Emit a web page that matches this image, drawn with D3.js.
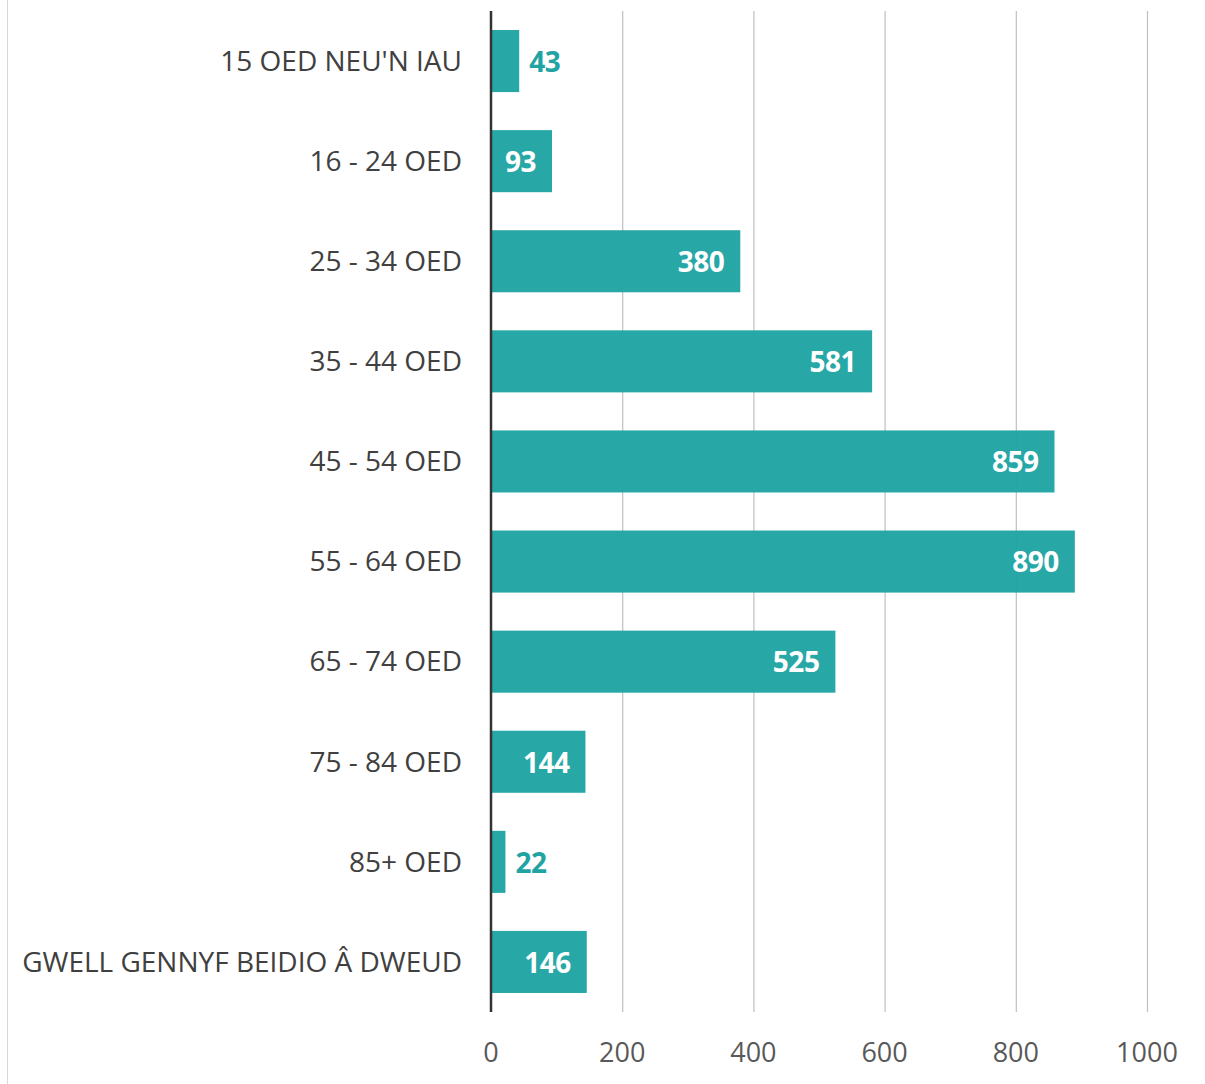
<!DOCTYPE html>
<html>
<head>
<meta charset="utf-8">
<script src="https://cdn.jsdelivr.net/npm/d3@7"></script>
<style>
body { margin: 0; background: #fff; }
text { font-family: "Open Sans", "Noto Sans", sans-serif; }
</style>
</head>
<body>
<div id="chart"></div>
<script>
var categories = ["15 OED NEU'N IAU", "16 - 24 OED", "25 - 34 OED", "35 - 44 OED", "45 - 54 OED",
  "55 - 64 OED", "65 - 74 OED", "75 - 84 OED", "85+ OED", "GWELL GENNYF BEIDIO Â DWEUD"];
var values = [43, 93, 380, 581, 859, 890, 525, 144, 22, 146];
var ticks = [0, 200, 400, 600, 800, 1000];

var width = 1205;
var height = 1084;
var teal = "#1fa3a3";

var svg = d3.select('#chart').append('svg').attr('width', width).attr('height', height);

// faint frame line on the left
svg.append('line')
  .attr('x1', 7.5).attr('x2', 7.5).attr('y1', 0).attr('y2', height)
  .attr('stroke', '#d9d9d9').attr('stroke-width', 1);

var x = d3.scaleLinear().domain([0, 1000]).range([491, 1147]);
var y = d3.scaleBand().domain(categories).range([11, 1012]).paddingInner(0.38).paddingOuter(0.19);

// gridlines
svg.append('g').selectAll('line').data(ticks.slice(1)).enter()
  .append('line')
  .attr('x1', function(d) { return x(d) + 0.5; })
  .attr('x2', function(d) { return x(d) + 0.5; })
  .attr('y1', 11).attr('y2', 1012)
  .attr('stroke', '#bfbfbf').attr('stroke-width', 1.2);

// bars
svg.append('g').selectAll('rect').data(values).enter()
  .append('rect')
  .attr('x', x(0))
  .attr('y', function(d, i) { return y(categories[i]); })
  .attr('width', function(d) { return x(d) - x(0); })
  .attr('height', y.bandwidth())
  .attr('fill', teal).attr('fill-opacity', 0.96);

// zero axis
svg.append('line')
  .attr('x1', x(0)).attr('x2', x(0)).attr('y1', 11).attr('y2', 1012)
  .attr('stroke', '#333').attr('stroke-width', 2.5);

// category labels
svg.append('g').selectAll('text').data(categories).enter()
  .append('text')
  .attr('x', 462)
  .attr('y', function(d) { return y(d) + y.bandwidth() / 2; })
  .attr('dy', '0.35em')
  .attr('text-anchor', 'end')
  .attr('font-size', 28)
  .attr('fill', '#404040')
  .text(function(d) { return d; });

// value labels
svg.append('g').selectAll('text').data(values).enter()
  .append('text')
  .attr('x', function(d) { return d < 60 ? x(d) + 10 : x(d) - 16; })
  .attr('y', function(d, i) { return y(categories[i]) + y.bandwidth() / 2 + 1; })
  .attr('dy', '0.35em')
  .attr('text-anchor', function(d) { return d < 60 ? 'start' : 'end'; })
  .attr('font-size', 28)
  .attr('font-weight', 'bold')
  .attr('letter-spacing', -0.5)
  .attr('fill', function(d) { return d < 60 ? teal : '#fff'; })
  .text(function(d) { return d; });

// tick labels
svg.append('g').selectAll('text').data(ticks).enter()
  .append('text')
  .attr('x', function(d) { return x(d); })
  .attr('y', 1053)
  .attr('dy', '0.35em')
  .attr('text-anchor', 'middle')
  .attr('font-size', 27)
  .attr('fill', '#595959')
  .text(function(d) { return d; });
</script>
</body>
</html>
